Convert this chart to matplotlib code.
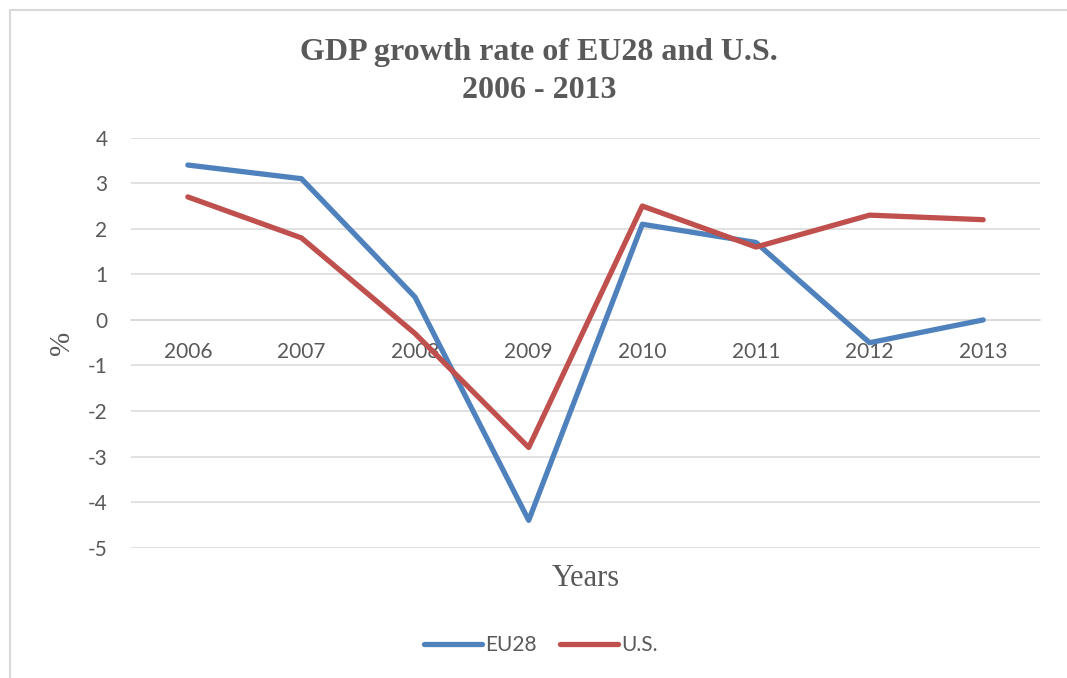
import matplotlib.pyplot as plt
from matplotlib.patches import Rectangle

# datos
years = ['2006', '2007', '2008', '2009', '2010', '2011', '2012', '2013']
eu28 = [3.4, 3.1, 0.5, -4.4, 2.1, 1.7, -0.5, 0.0]
us = [2.7, 1.8, -0.3, -2.8, 2.5, 1.6, 2.3, 2.2]

gris_texto = '#595959'
gris_linea = '#D9D9D9'

plt.rcParams['axes.unicode_minus'] = False

fig = plt.figure(figsize=(10.67, 6.78), dpi=100)
ax = fig.add_axes([0.1228, 0.1922, 0.8519, 0.6047])

x = range(len(years))
ax.plot(x, eu28, color='#4F81BD', lw=3.8, solid_capstyle='round', solid_joinstyle='round', label='EU28', zorder=3)
ax.plot(x, us, color='#C0504D', lw=3.8, solid_capstyle='round', solid_joinstyle='round', label='U.S.', zorder=3)

ax.set_xlim(-0.5, len(years) - 0.5)
ax.set_ylim(-5, 4)
ax.set_yticks(range(-5, 5))
ax.set_xticks(list(x))
ax.set_xticklabels(years)

ax.grid(axis='y', color=gris_linea, lw=1.1)
ax.set_axisbelow(True)
for s in ['top', 'right', 'left']:
    ax.spines[s].set_visible(False)
ax.spines['bottom'].set_position(('data', 0))
ax.spines['bottom'].set_color(gris_linea)
ax.spines['bottom'].set_linewidth(1.1)

ax.tick_params(axis='both', length=0, labelsize=15, labelcolor=gris_texto)
ax.tick_params(axis='x', pad=16)
ax.tick_params(axis='y', pad=17)
for lab in ax.get_xticklabels() + ax.get_yticklabels():
    lab.set_family('Lato')

# titulos de ejes
ax.text(0.5, -0.075, 'Years', transform=ax.transAxes, ha='center', va='center',
        fontsize=22, family='Liberation Serif', color=gris_texto)
ax.text(-0.076, 0.5, '%', transform=ax.transAxes, ha='center', va='center', rotation=90,
        fontsize=21, family='Liberation Serif', color=gris_texto)

# titulo del grafico
fig.text(0.505, 1 - 60 / 678, 'GDP growth rate of EU28 and U.S.', ha='center', va='baseline',
         fontsize=23, fontweight='bold', family='Liberation Serif', color=gris_texto)
fig.text(0.505, 1 - 98 / 678, '2006 - 2013', ha='center', va='baseline',
         fontsize=23, fontweight='bold', family='Liberation Serif', color=gris_texto)

leg = fig.legend(loc='center', bbox_to_anchor=(541 / 1067, 1 - 645 / 678), ncol=2, frameon=False,
                 handlelength=2.8, handletextpad=0.15, columnspacing=1.1,
                 prop={'family': 'Lato', 'size': 15})
for t in leg.get_texts():
    t.set_color(gris_texto)

# marco del area del grafico
fig.patches.append(Rectangle((10 / 1067, -0.1), 1.2, 1.1 - 10 / 678, transform=fig.transFigure,
                             fill=False, edgecolor=gris_linea, lw=1.5))

fig.savefig('out.png', dpi=100)
